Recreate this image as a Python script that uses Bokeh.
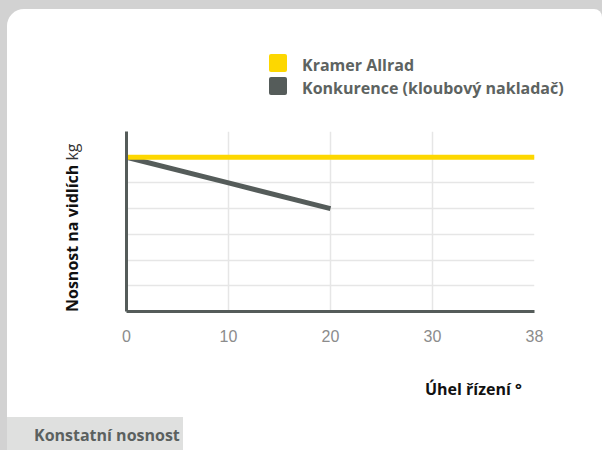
from bokeh.plotting import figure
from bokeh.models import Range1d, FixedTicker, Div, GlobalInlineStyleSheet
from bokeh.layouts import column, row
from bokeh.embed import file_html
from bokeh.resources import INLINE

# ---- data ----
angle_labels = ["0", "10", "20", "30", "38"]          # x tick labels (evenly spaced)
kramer = [6, 6, 6, 6, 6]                               # Kramer Allrad (constant)
konkurence = [6, 5, 4]                                 # competitor, up to 20°
series_names = ["Kramer Allrad", "Konkurence (kloubový nakladač)"]
y_grid = [0, 1, 2, 3, 4, 5, 6]
x_title = "Úhel řízení °"
y_title_bold = "Nosnost na vidlích"
y_title_unit = "kg"
tab_text = "Konstatní nosnost"

YELLOW = "#fdd700"
DARK = "#555c5a"
FONT = "'Open Sans', sans-serif"
series_colors = [YELLOW, DARK]

pos = list(range(len(angle_labels)))

# ---- chart ----
p = figure(width=520, height=234, output_backend="svg", toolbar_location=None,
           x_range=Range1d(0, len(angle_labels) - 1), y_range=Range1d(0, 7))
p.min_border_left = 44
p.min_border_right = 68
p.min_border_top = 10
p.min_border_bottom = 44
p.margin = 0
p.outline_line_color = None
p.background_fill_color = "white"
p.border_fill_color = "white"

p.xaxis.ticker = FixedTicker(ticks=pos)
p.xaxis.major_label_overrides = {i: t for i, t in zip(pos, angle_labels)}
p.xaxis.major_tick_line_color = None
p.xaxis.minor_tick_line_color = None
p.xaxis.axis_line_color = DARK
p.xaxis.axis_line_width = 3
p.xaxis.major_label_text_font = "Liberation Sans"
p.xaxis.major_label_text_font_size = "16px"
p.xaxis.major_label_text_color = "#8c8c8c"
p.xaxis.major_label_standoff = 12

p.yaxis.ticker = FixedTicker(ticks=y_grid)
p.yaxis.major_label_overrides = {v: "" for v in y_grid}
p.yaxis.major_tick_line_color = None
p.yaxis.minor_tick_line_color = None
p.yaxis.major_label_standoff = 0
p.yaxis.axis_line_color = DARK
p.yaxis.axis_line_width = 3

p.xgrid.grid_line_color = "#e6e6e6"
p.xgrid.grid_line_width = 1.5
p.ygrid.grid_line_color = "#e6e6e6"
p.ygrid.grid_line_width = 1.5

p.line(pos[:len(konkurence)], konkurence, line_color=DARK, line_width=5)
p.line(pos, kramer, line_color=YELLOW, line_width=5)

# ---- legend (top area) ----
txt = f"font-family:{FONT};font-weight:700;font-size:16px;line-height:22px;white-space:nowrap;"
legend_html = '<div style="position:relative;width:595px;height:112px;">'
for i, (name, col) in enumerate(zip(series_names, series_colors)):
    top_sq = 45 + 23 * i
    top_tx = 45 + 23 * i
    legend_html += (f'<div style="position:absolute;left:262px;top:{top_sq}px;width:18px;'
                    f'height:18px;border-radius:2px;background:{col};"></div>')
    legend_html += (f'<div style="position:absolute;left:295px;top:{top_tx}px;{txt}'
                    f'color:#5d6361;">{name}</div>')
legend_html += '</div>'
div_legend = Div(text=legend_html, width=595, height=112, margin=0)

# ---- y title (left of chart) ----
ylab_html = ('<div style="position:relative;width:75px;height:234px;">'
             f'<div style="position:absolute;left:54px;top:191px;transform:rotate(-90deg);'
             f'transform-origin:0 0;{txt}color:#111111;">{y_title_bold} '
             f'<span style="font-weight:400;color:#333333;">{y_title_unit}</span></div></div>')
div_ylab = Div(text=ylab_html, width=75, height=234, margin=0)

# ---- x title and bottom tab ----
bottom_html = ('<div style="position:relative;width:595px;height:95px;">'
               f'<div style="position:absolute;left:418px;top:23px;{txt}color:#111111;">{x_title}</div>'
               '<div style="position:absolute;left:0px;top:62px;width:176px;height:33px;'
               'background:#dfe0df;"></div>'
               f'<div style="position:absolute;left:27px;top:72px;{txt}line-height:16px;'
               f'color:#5b615f;">{tab_text}</div>'
               '</div>')
div_bottom = Div(text=bottom_html, width=595, height=95, margin=0)

layout = column(div_legend, row(div_ylab, p, spacing=0, margin=0), div_bottom,
                spacing=0, margin=0)
layout.styles = {"margin-left": "7px", "margin-top": "9px", "background-color": "white",
                 "border-radius": "17px 8px 0 0", "overflow": "hidden"}
layout.stylesheets = [GlobalInlineStyleSheet(css="body { background-color: #d2d2d2; }")]

open("out.html", "w").write(file_html(layout, INLINE))
